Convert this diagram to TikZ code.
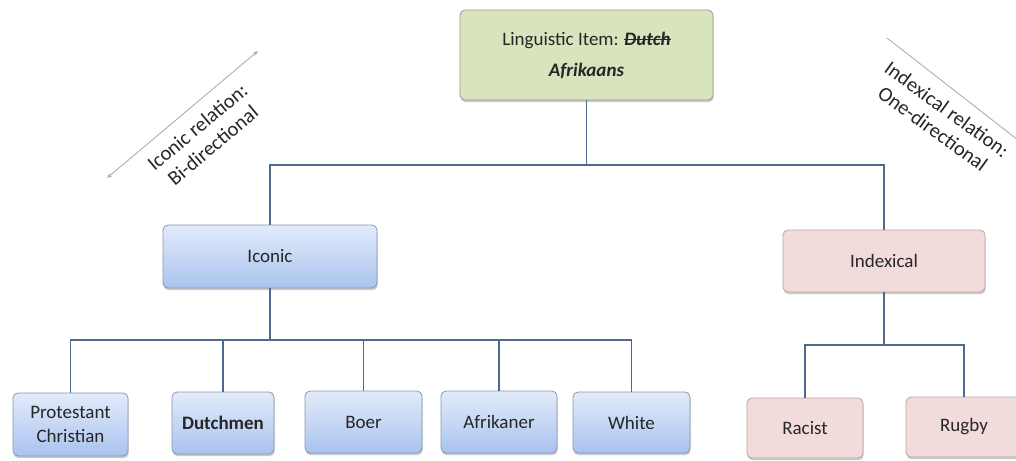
\documentclass[tikz,border=0pt]{standalone}
\usepackage{fontspec}
\setmainfont{Carlito}
\usetikzlibrary{shadows,arrows.meta}
% struck-through word: the word, then a thin rule across it
\newsavebox{\strikebox}
\newcommand{\strikeword}[1]{\sbox{\strikebox}{#1}\rlap{\usebox{\strikebox}}\rule[0.27em]{\wd\strikebox}{0.9pt}}
\definecolor{txt}{HTML}{262626}
\definecolor{linkc}{HTML}{4F6A8F}
\definecolor{greenfill}{HTML}{D7E4BD}
\definecolor{greenline}{HTML}{9A9A8C}
\definecolor{bluetop}{HTML}{E3EBFA}
\definecolor{bluebot}{HTML}{A9C3EE}
\definecolor{blueline}{HTML}{8797B0}
\definecolor{pinkfill}{HTML}{F2DCDB}
\definecolor{pinkline}{HTML}{B9A5A5}
\definecolor{relc}{HTML}{9DB3BF}
\tikzset{
  box/.style={rounded corners=5pt, inner sep=2pt, align=center, text=txt,
    font=\fontsize{19}{24}\selectfont,
    drop shadow={shadow xshift=0.6pt, shadow yshift=-2.2pt, opacity=0.35, fill=black!60}},
  topbox/.style={box, fill=greenfill, draw=greenline, line width=0.8pt},
  bluebox/.style={box, top color=bluetop, bottom color=bluebot, draw=blueline, line width=0.8pt},
  pinkbox/.style={box, fill=pinkfill, draw=pinkline, line width=0.8pt},
  link/.style={draw=linkc, line width=1.7pt},
  rellabel/.style={align=center, text=txt, font=\fontsize{20.5}{24}\selectfont}
}
\begin{document}
\begin{tikzpicture}[x=1pt, y=-1pt]
\useasboundingbox (0,0) rectangle (1016,460);
\clip (0,0) rectangle (1016,460);

% root
\node[topbox, minimum width=253pt, minimum height=90pt] (root) at (586.5,55)
  {Linguistic Item: \textbf{\textit{\strikeword{Dutch}}}\\[7pt]\textbf{\textit{Afrikaans}}};

% second level
\node[bluebox, minimum width=214pt, minimum height=63pt] (iconic) at (270,256.5) {Iconic};
\node[pinkbox, minimum width=202pt, minimum height=62pt] (indexical) at (884,261) {Indexical};

% leaves under Iconic
\node[bluebox, minimum width=115pt, minimum height=63pt] (prot) at (70.5,424.5) {Protestant\\Christian};
\node[bluebox, minimum width=102pt, minimum height=62pt] (dutch) at (223,423) {\textbf{Dutchmen}};
\node[bluebox, minimum width=117pt, minimum height=62pt] (boer) at (363.5,422) {Boer};
\node[bluebox, minimum width=116pt, minimum height=62pt] (afrik) at (499,422) {Afrikaner};
\node[bluebox, minimum width=117pt, minimum height=61pt] (white) at (631.5,422.5) {White};

% leaves under Indexical
\node[pinkbox, minimum width=116pt, minimum height=60pt] (racist) at (805,428) {Racist};
\node[pinkbox, minimum width=116pt, minimum height=60pt] (rugby) at (964,427) {Rugby};

% connectors
\coordinate (busA) at (587,165);
\coordinate (busB) at (270,340);
\coordinate (busC) at (884,345);
\draw[link] (root.south) -- (root.south |- busA) -| (iconic.north);
\draw[link] (root.south |- busA) -| (indexical.north);
\foreach \n in {prot,dutch,boer,afrik,white}
  \draw[link] (iconic.south) -- (iconic.south |- busB) -| (\n.north);
\foreach \n in {racist,rugby}
  \draw[link] (indexical.south) -- (indexical.south |- busC) -| (\n.north);

% relation markers
\coordinate (icA) at (107,178);
\coordinate (icB) at (258,51);
\draw[relc, line width=0.9pt, <->, >={Stealth[length=5pt,width=4pt]}] (icA) -- (icB);
\node[rellabel, rotate=40] (iclab) at (205,136) {Iconic relation:\\Bi-directional};

\coordinate (ixA) at (887,38);
\coordinate (ixB) at (1018,140);
\draw[relc, line width=0.9pt] (ixA) -- (ixB);
\node[rellabel, rotate=-36] (ixlab) at (940,119) {Indexical relation:\\One-directional};
\end{tikzpicture}
\end{document}
